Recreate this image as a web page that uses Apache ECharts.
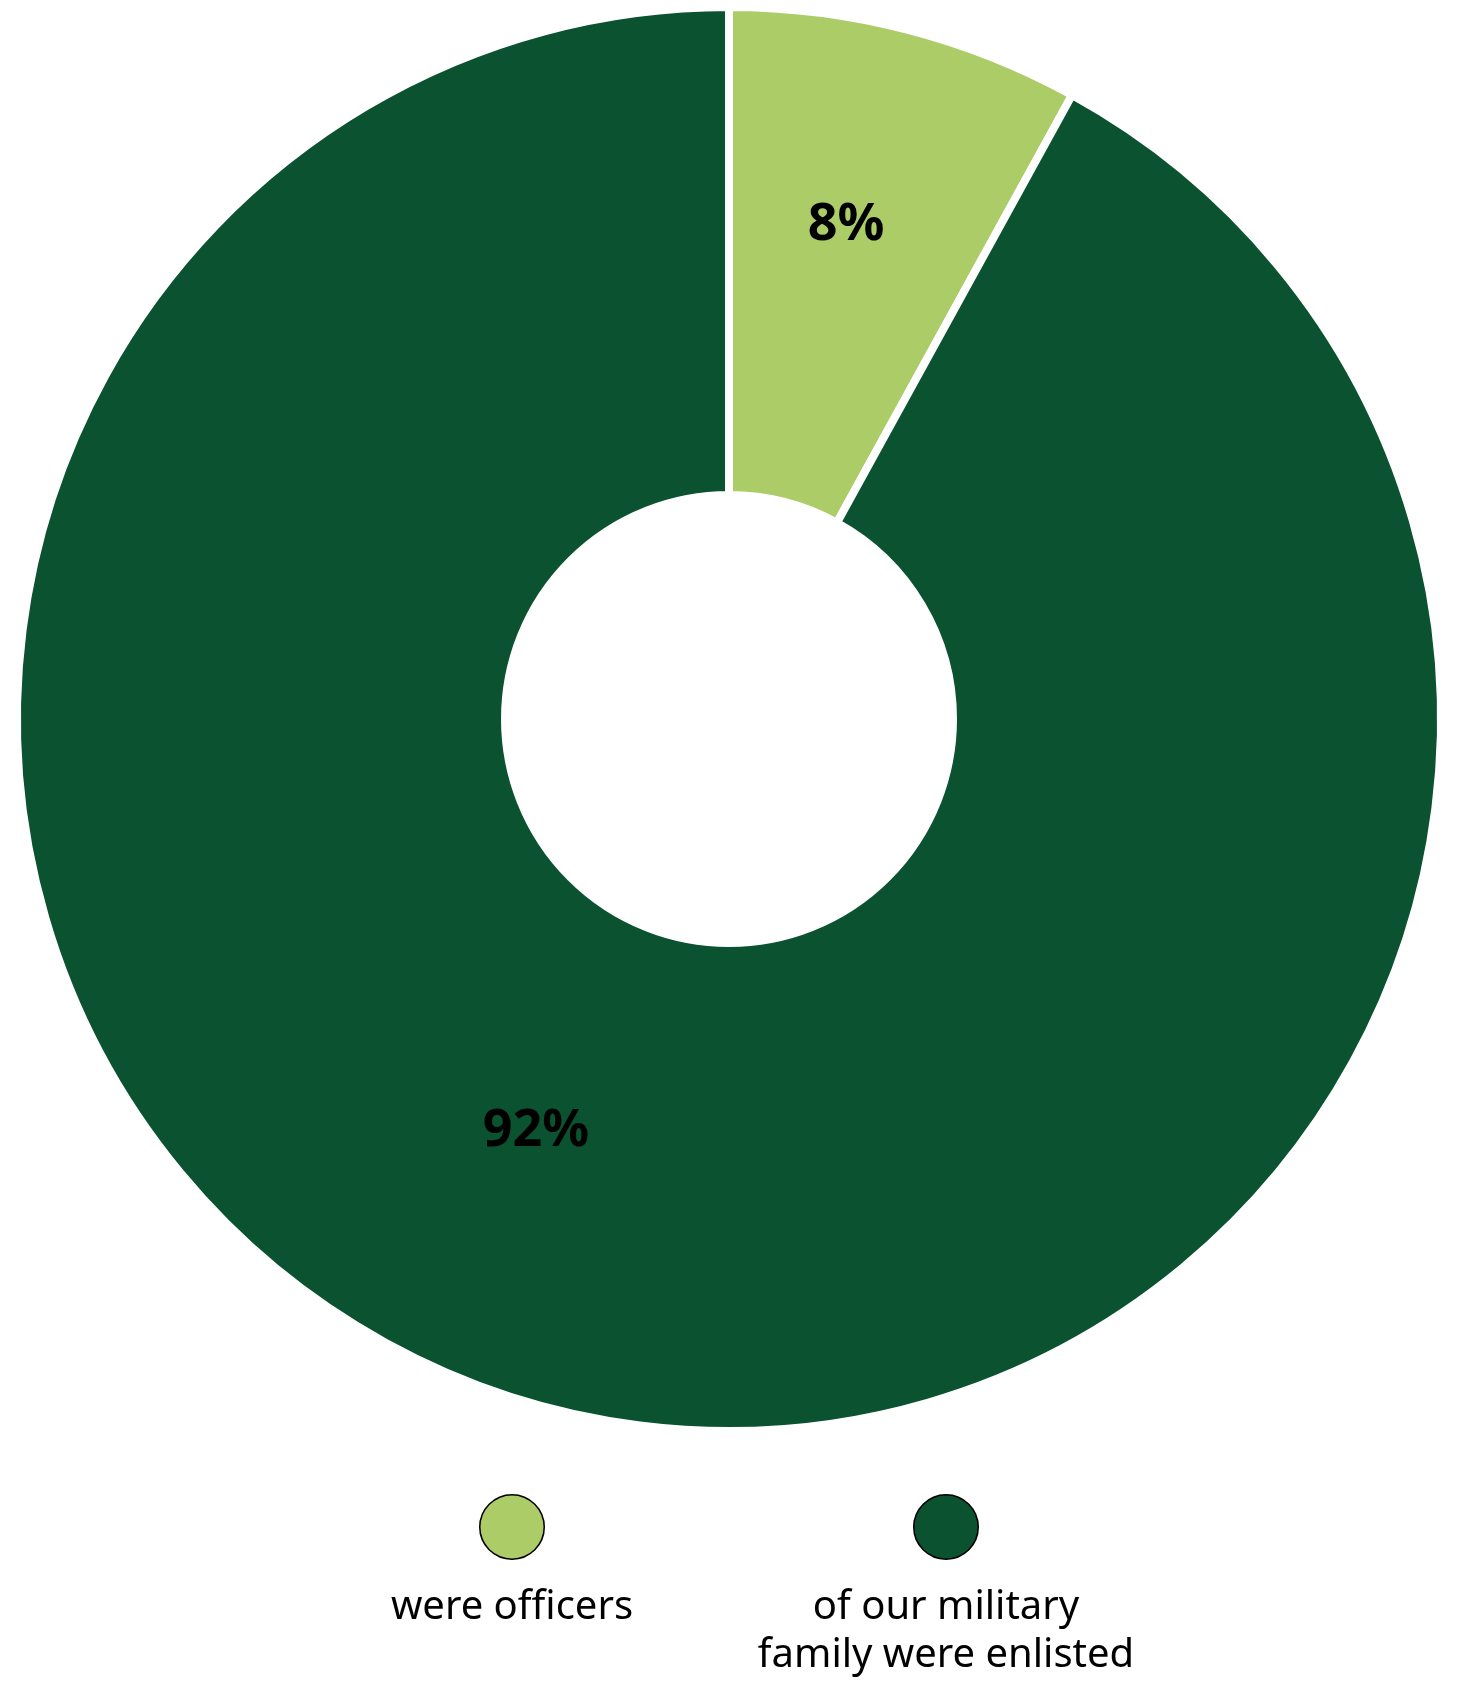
<!DOCTYPE html>
<html>
<head>
<meta charset="utf-8">
<style>
  html, body { margin: 0; padding: 0; background: #ffffff; }
  #chart { width: 1460px; height: 1694px; }
</style>
<script src="https://cdn.jsdelivr.net/npm/echarts@6/dist/echarts.min.js"></script>
</head>
<body>
<div id="chart"></div>
<script>
// ---- data ----
const categories = ['were officers', 'of our military\nfamily were enlisted'];
const values = [8, 92];
const valueLabels = ['8%', '92%'];
const colors = ['#ABCC67', '#0A5230'];

// ---- style tweaks (label nudges, not data) ----
const labelNudges = [[0, -38], [-76, -44]];

const chart = echarts.init(document.getElementById('chart'), null, { renderer: 'canvas' });

const rich = {
  sp: { height: 24, lineHeight: 24, width: 420 },
  txt: {
    width: 420, align: 'center', fontSize: 40, lineHeight: 48,
    fontFamily: '"Noto Sans", sans-serif', color: '#000000'
  }
};
colors.forEach(function (c, i) {
  rich['dot' + i] = {
    width: 63, height: 63, lineHeight: 65, align: 'center',
    backgroundColor: c, borderColor: '#000000', borderWidth: 1.5, borderRadius: 32
  };
});

const option = {
  animation: false,
  backgroundColor: '#ffffff',
  color: colors,
  legend: {
    data: categories,
    orient: 'horizontal',
    left: 296,
    top: 1494,
    padding: 0,
    itemWidth: 0,
    itemHeight: 0,
    itemGap: 8,
    selectedMode: false,
    icon: 'rect',
    itemStyle: { opacity: 0 },
    textStyle: { rich: rich },
    formatter: function (name) {
      const idx = categories.indexOf(name);
      const lines = name.split('\n');
      while (lines.length < 2) lines.push(' ');
      return '{dot' + idx + '|}\n{sp|}\n' + lines.map(function (l) { return '{txt|' + l + '}'; }).join('\n');
    }
  },
  series: [{
    type: 'pie',
    center: [729, 719],
    radius: [224, 712],
    startAngle: 90,
    clockwise: true,
    avoidLabelOverlap: false,
    silent: true,
    emphasis: { disabled: true },
    itemStyle: { borderColor: '#ffffff', borderWidth: 8 },
    labelLine: { show: false },
    data: categories.map(function (name, i) {
      return {
        name: name,
        value: values[i],
        itemStyle: { color: colors[i] },
        label: {
          show: true,
          position: 'inside',
          formatter: valueLabels[i],
          offset: labelNudges[i],
          fontSize: 52,
          fontWeight: 'bold',
          fontFamily: '"Noto Sans", sans-serif',
          color: '#000000'
        }
      };
    })
  }]
};

chart.setOption(option);
</script>
</body>
</html>
